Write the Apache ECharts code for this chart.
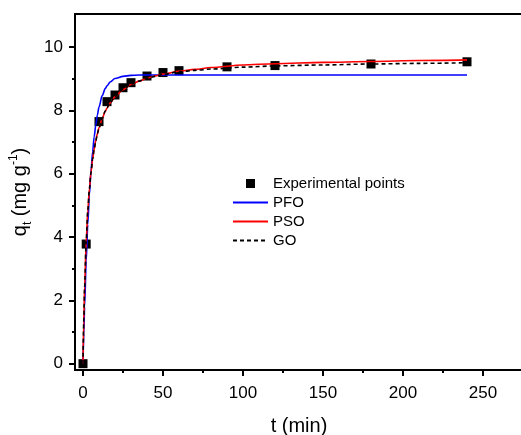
<!DOCTYPE html>
<html>
<head>
<meta charset="utf-8">
<script src="https://cdn.jsdelivr.net/npm/echarts@6/dist/echarts.min.js"></script>
<style>html,body{margin:0;padding:0;background:#fff;}#c{width:521px;height:435px;}</style>
</head>
<body>
<div id="c"></div>
<script>
// Experimental data
const tExp = [0, 2, 10, 15, 20, 25, 30, 40, 50, 60, 90, 120, 180, 240];
const qExp = [0, 3.78, 7.65, 8.28, 8.49, 8.72, 8.88, 9.09, 9.2, 9.26, 9.38, 9.42, 9.47, 9.54];
// Fitted curves
const tFit = [0, 0.5, 1, 2, 3, 4, 5, 6, 7, 8, 9, 10, 12, 14, 15, 17, 20, 25, 30, 35, 40, 45, 50, 60, 70, 80, 100, 120, 150, 180, 210, 240];
const qPFO = [0, 0.95, 1.80, 3.25, 4.41, 5.34, 6.08, 6.69, 7.17, 7.55, 7.86, 8.11, 8.47, 8.70, 8.78, 8.90, 9.01, 9.08, 9.11, 9.12, 9.12, 9.12, 9.12, 9.12, 9.12, 9.12, 9.12, 9.12, 9.12, 9.12, 9.12, 9.12];
const qPSO = [0, 1.38, 2.42, 3.87, 4.84, 5.53, 6.05, 6.46, 6.78, 7.05, 7.27, 7.45, 7.75, 7.98, 8.08, 8.24, 8.43, 8.66, 8.82, 8.93, 9.02, 9.09, 9.15, 9.24, 9.30, 9.36, 9.44, 9.48, 9.52, 9.55, 9.58, 9.60];
const qGO  = [0, 1.38, 2.42, 3.87, 4.84, 5.53, 6.05, 6.46, 6.78, 7.05, 7.27, 7.45, 7.76, 7.99, 8.09, 8.25, 8.44, 8.67, 8.83, 8.93, 9.02, 9.08, 9.14, 9.22, 9.27, 9.31, 9.37, 9.41, 9.44, 9.47, 9.49, 9.51];
// Ticks
const xMajor = [0, 50, 100, 150, 200, 250];
const xMinor = [25, 75, 125, 175, 225];
const yMajor = [0, 2, 4, 6, 8, 10];
const yMinor = [1, 3, 5, 7, 9];
const seriesNames = ['Experimental points', 'PFO', 'PSO', 'GO'];

const FONT = 'Liberation Sans, Arial, sans-serif';
const zip = (a, b) => a.map((v, i) => [v, b[i]]);
const X_MIN = -5, X_MAX = 275, Y_MIN = -0.2, Y_MAX = 11.05;

const chart = echarts.init(document.getElementById('c'), null, {renderer: 'canvas'});
chart.setOption({
  backgroundColor: '#fff',
  animation: false,
  textStyle: {fontFamily: FONT, color: '#000'},
  grid: {left: 75, top: 14, width: 448, height: 356, outerBoundsMode: 'none', containLabel: false,
    show: true, borderColor: '#000', borderWidth: 2, backgroundColor: 'transparent'},
  legend: {
    orient: 'vertical', left: 227, top: 171,
    itemWidth: 35, itemHeight: 9, itemGap: 4,
    textStyle: {fontFamily: FONT, fontSize: 15, color: '#000'},
    data: [
      {name: seriesNames[0], icon: 'path://M0 0H10V10H0Z'},
      {name: seriesNames[1], itemStyle: {opacity: 0}},
      {name: seriesNames[2], itemStyle: {opacity: 0}},
      {name: seriesNames[3], itemStyle: {opacity: 0}}
    ]
  },
  xAxis: [{
    type: 'value', min: X_MIN, max: X_MAX, position: 'bottom',
    axisLine: {onZero: false, lineStyle: {color: '#000', width: 2}},
    axisTick: {customValues: xMajor, length: 6, lineStyle: {color: '#000', width: 2}},
    axisLabel: {customValues: xMajor, fontSize: 17, color: '#000', fontFamily: FONT, margin: 15},
    splitLine: {show: false},
    name: 't (min)', nameLocation: 'middle', nameGap: 46,
    nameTextStyle: {fontSize: 20, color: '#000', fontFamily: FONT}
  }, {
    type: 'value', min: X_MIN, max: X_MAX, position: 'top', offset: -356,
    axisLine: {show: false, onZero: false},
    axisTick: {customValues: xMinor, inside: true, length: 3, lineStyle: {color: '#000', width: 2}},
    axisLabel: {show: false}, splitLine: {show: false}
  }],
  yAxis: [{
    type: 'value', min: Y_MIN, max: Y_MAX, position: 'left',
    axisLine: {show: true, onZero: false, lineStyle: {color: '#000', width: 2}},
    axisTick: {customValues: yMajor, length: 6, lineStyle: {color: '#000', width: 2}},
    axisLabel: {customValues: yMajor, fontSize: 17, color: '#000', fontFamily: FONT, margin: 12},
    splitLine: {show: false},
    name: '{n|q}{sub|t}{n| (mg g}{sup|-1}{n|)}', nameLocation: 'middle', nameGap: 41, nameRotate: 90,
    nameTextStyle: {
      fontSize: 20, color: '#000', fontFamily: FONT,
      rich: {
        n: {fontSize: 20, fontFamily: FONT, color: '#000', lineHeight: 26},
        sub: {fontSize: 12, fontFamily: FONT, color: '#000', verticalAlign: 'bottom', lineHeight: 14},
        sup: {fontSize: 12, fontFamily: FONT, color: '#000', verticalAlign: 'top', lineHeight: 14}
      }
    }
  }, {
    type: 'value', min: Y_MIN, max: Y_MAX, position: 'right', offset: -448,
    axisLine: {show: false, onZero: false},
    axisTick: {show: true, customValues: yMinor, inside: true, length: 3, lineStyle: {color: '#000', width: 2}},
    axisLabel: {show: false}, splitLine: {show: false}
  }],
  series: [{
    name: seriesNames[0], type: 'scatter', symbol: 'rect', symbolSize: 9,
    itemStyle: {color: '#000', opacity: 1}, data: zip(tExp, qExp), z: 2
  }, {
    name: seriesNames[1], type: 'line', symbol: 'none', smooth: 0.3, smoothMonotone: 'x',
    lineStyle: {color: '#0000ff', width: 1.6}, itemStyle: {color: '#0000ff'},
    data: zip(tFit, qPFO), z: 3
  }, {
    name: seriesNames[2], type: 'line', symbol: 'none', smooth: 0.3, smoothMonotone: 'x',
    lineStyle: {color: '#ff0000', width: 1.6}, itemStyle: {color: '#ff0000'},
    data: zip(tFit, qPSO), z: 4
  }, {
    name: seriesNames[3], type: 'line', symbol: 'none', smooth: 0.3, smoothMonotone: 'x',
    lineStyle: {color: '#000', width: 1.6, type: [4, 3]}, itemStyle: {color: '#000'},
    data: zip(tFit, qGO), z: 5
  }]
});
</script>
</body>
</html>
